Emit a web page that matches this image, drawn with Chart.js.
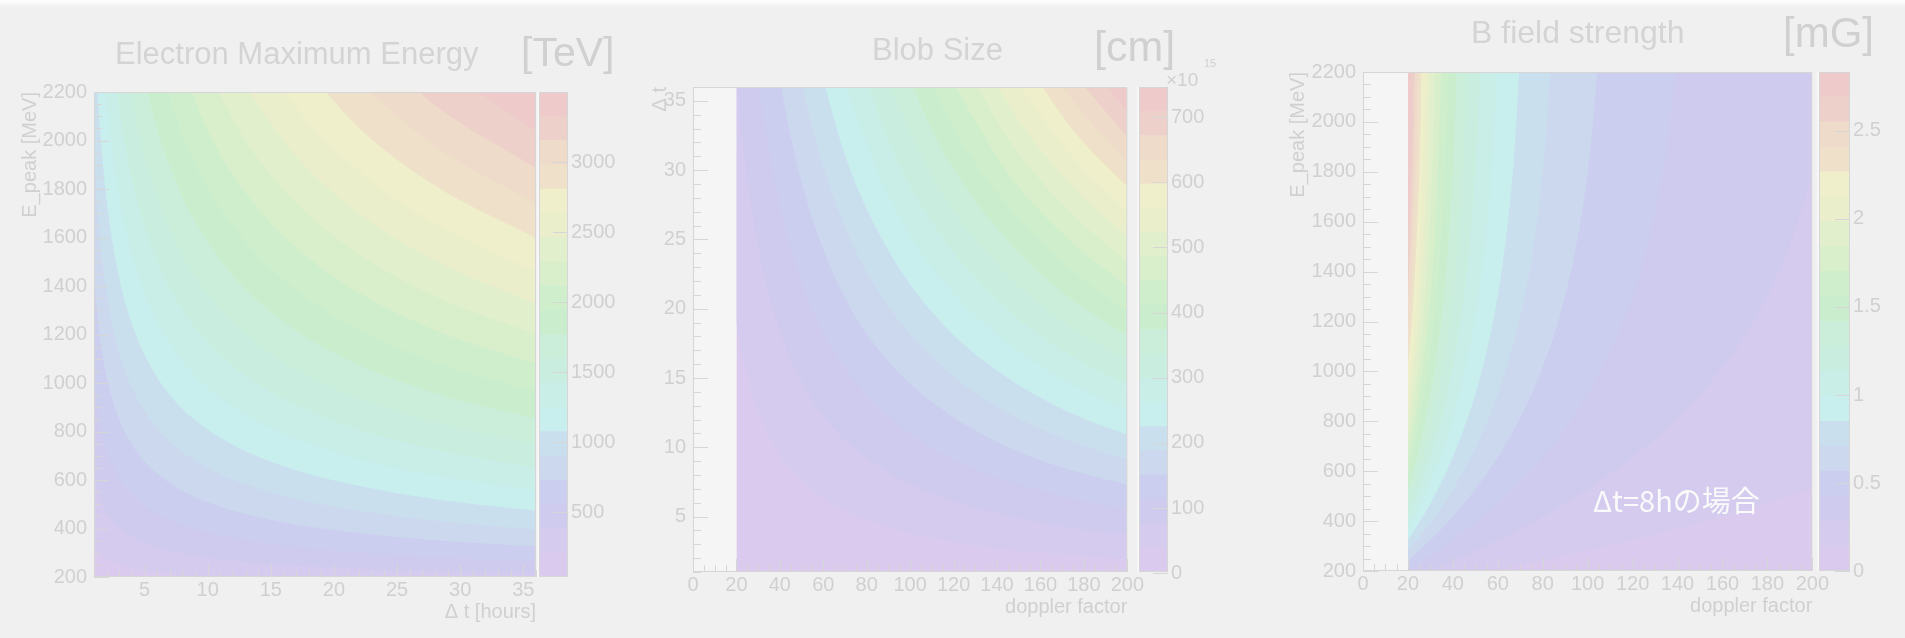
<!DOCTYPE html>
<html>
<head>
<meta charset="utf-8">
<title>Blob parameters</title>
<script src="https://cdn.jsdelivr.net/npm/chart.js@4.4.1/dist/chart.umd.min.js"></script>
<style>
  html, body { margin: 0; padding: 0; }
  body { width: 1905px; height: 638px; position: relative; overflow: hidden; background: #f0f0f0;
         font-family: "Liberation Sans", Arial, sans-serif; }
  canvas, .txt, .strip { position: absolute; }
  .txt { white-space: nowrap; line-height: 1; }
  .title { color: #d4d4d4; font-size: 31px; }
  .unit { color: #d0d0d0; }
</style>
</head>
<body>
<div class="strip" style="left:0;top:0;width:1905px;height:7px;background:linear-gradient(#ffffff,#f0f0f0)"></div>

<canvas id="emax" width="545" height="638" style="left:0;top:0"></canvas>
<div class="strip" style="left:537px;top:92px;width:2px;height:485px;background:#f7f7f7"></div>
<canvas id="emaxBar" width="110" height="638" style="left:539px;top:0"></canvas>

<canvas id="blob" width="545" height="638" style="left:600px;top:0"></canvas>
<div class="strip" style="left:1137px;top:87px;width:2px;height:485px;background:#f7f7f7"></div>
<canvas id="blobBar" width="110" height="638" style="left:1139px;top:0"></canvas>

<canvas id="bfield" width="560" height="638" style="left:1270px;top:0"></canvas>
<div class="strip" style="left:1817px;top:72px;width:2px;height:499px;background:#f7f7f7"></div>
<canvas id="bfieldBar" width="86" height="638" style="left:1819px;top:0"></canvas>

<div class="txt title" style="left:115px;top:38px">Electron Maximum Energy</div>
<div class="txt unit" style="left:521px;top:32px;font-size:41px">[TeV]</div>
<div class="txt title" style="left:872px;top:34px">Blob Size</div>
<div class="txt unit" style="left:1094px;top:25px;font-size:43px">[cm]</div>
<div class="txt unit" style="left:1166px;top:70px;font-size:19px">×10</div>
<div class="txt unit" style="left:1204px;top:58px;font-size:11px">15</div>
<div class="txt title" style="left:1471px;top:16px;font-size:32px">B field strength</div>
<div class="txt unit" style="left:1783px;top:12px;font-size:42px">[mG]</div>
<div class="txt" style="left:1593px;top:485px;font-size:29px;font-family:'Noto Sans CJK JP';color:#fafafa">Δt=8hの場合</div>

<script>
// 20-step palette shared by the three maps (lowest level first)
const palette = ['#dacbee', '#d4cbee', '#cecbee', '#cbceee', '#ccd8ee', '#cadfee', '#c8eeee', '#c8eee7',
                 '#c9eedf', '#caeed9', '#caeecd', '#ceeecc', '#d9efcc', '#e1efcc', '#eaeeca', '#efefcb',
                 '#eee0c9', '#eedbc9', '#eed0cb', '#efcacb'];

// Electron maximum energy [TeV] vs Δt [hours] and E_peak [MeV]
const emaxEdges = [36, 209, 382, 556, 729, 902, 1075, 1248, 1422, 1595, 1768, 1941, 2114, 2288,
                   2461, 2634, 2807, 2980, 3154, 3327, 3500];
const emaxHours = [1, 1.3, 1.7, 2.2, 3, 4, 5.5, 7.5, 10, 13, 17, 22, 28, 36];
// E_peak where each level boundary sits, one row per boundary
const emaxContours = [
  [333, 308, 286, 268, 249, 235, 221, 210, 201, 194, 188, 183, 179, 175],
  [619, 555, 499, 453, 405, 367, 332, 303, 281, 263, 247, 234, 224, 214],
  [990, 876, 776, 693, 607, 539, 476, 425, 384, 353, 325, 301, 282, 265],
  [1435, 1261, 1107, 980, 848, 745, 649, 570, 508, 460, 417, 381, 352, 326],
  [1943, 1700, 1486, 1308, 1125, 981, 846, 736, 650, 582, 522, 473, 432, 396],
  [2509, 2189, 1907, 1673, 1432, 1243, 1066, 921, 808, 719, 640, 575, 521, 473],
  [null, null, 2369, 2073, 1769, 1530, 1307, 1124, 980, 868, 769, 686, 619, 558],
  [null, null, null, 2506, 2133, 1841, 1567, 1343, 1167, 1029, 908, 807, 725, 650],
  [null, null, null, null, 2524, 2174, 1846, 1578, 1367, 1203, 1057, 936, 838, 748],
  [null, null, null, null, null, 2528, 2142, 1828, 1580, 1387, 1216, 1074, 958, 853],
  [null, null, null, null, null, null, 2455, 2091, 1805, 1581, 1383, 1219, 1085, 963],
  [null, null, null, null, null, null, null, 2368, 2041, 1785, 1559, 1371, 1218, 1079],
  [null, null, null, null, null, null, null, null, 2289, 1999, 1744, 1531, 1358, 1201],
  [null, null, null, null, null, null, null, null, null, 2223, 1936, 1698, 1504, 1328],
  [null, null, null, null, null, null, null, null, null, 2455, 2136, 1872, 1656, 1460],
  [null, null, null, null, null, null, null, null, null, null, 2344, 2052, 1814, 1597],
  [null, null, null, null, null, null, null, null, null, null, null, 2238, 1977, 1739],
  [null, null, null, null, null, null, null, null, null, null, null, 2431, 2145, 1886],
  [null, null, null, null, null, null, null, null, null, null, null, null, 2319, 2037]
];
const emaxXTicks = [5, 10, 15, 20, 25, 30, 35];
const epeakTicks = [200, 400, 600, 800, 1000, 1200, 1400, 1600, 1800, 2000, 2200];
const emaxBarTicks = [500, 1000, 1500, 2000, 2500, 3000];

// Blob size [1e15 cm] vs doppler factor and Δt [hours]
const blobEdges = [2, 39.2, 76.4, 113.6, 150.8, 188, 225.2, 262.4, 299.6, 336.8, 374, 411.2, 448.4,
                   485.6, 522.8, 560, 597.2, 634.4, 671.6, 708.8, 746];
const blobDoppler = [20, 23, 27, 32, 38, 45, 55, 70, 90, 115, 145, 175, 200];
const blobContours = [
  [18.9, 16.4, 14.0, 11.8, 9.9, 8.4, 6.9, 5.4, 4.2, 3.3, 2.6, 2.2, 1.9],
  [36.9, 32.0, 27.3, 23.0, 19.4, 16.4, 13.4, 10.5, 8.2, 6.4, 5.1, 4.2, 3.7],
  [null, null, 40.6, 34.3, 28.9, 24.4, 19.9, 15.7, 12.2, 9.5, 7.6, 6.3, 5.5],
  [null, null, null, null, 38.3, 32.4, 26.5, 20.8, 16.2, 12.7, 10.0, 8.3, 7.3],
  [null, null, null, null, null, 40.3, 33.0, 25.9, 20.2, 15.8, 12.5, 10.4, 9.1],
  [null, null, null, null, null, null, 39.5, 31.1, 24.2, 18.9, 15.0, 12.4, 10.9],
  [null, null, null, null, null, null, null, 36.2, 28.1, 22.0, 17.5, 14.5, 12.7],
  [null, null, null, null, null, null, null, 41.3, 32.1, 25.1, 19.9, 16.5, 14.5],
  [null, null, null, null, null, null, null, null, 36.1, 28.3, 22.4, 18.6, 16.3],
  [null, null, null, null, null, null, null, null, 40.1, 31.4, 24.9, 20.6, 18.1],
  [null, null, null, null, null, null, null, null, 44.1, 34.5, 27.4, 22.7, 19.8],
  [null, null, null, null, null, null, null, null, null, 37.6, 29.8, 24.7, 21.6],
  [null, null, null, null, null, null, null, null, null, 40.8, 32.3, 26.8, 23.4],
  [null, null, null, null, null, null, null, null, null, 43.9, 34.8, 28.8, 25.2],
  [null, null, null, null, null, null, null, null, null, null, 37.3, 30.9, 27.0],
  [null, null, null, null, null, null, null, null, null, null, 39.8, 32.9, 28.8],
  [null, null, null, null, null, null, null, null, null, null, 42.2, 35.0, 30.6],
  [null, null, null, null, null, null, null, null, null, null, null, 37.0, 32.4],
  [null, null, null, null, null, null, null, null, null, null, null, 39.1, 34.2]
];
const dopplerTicks = [0, 20, 40, 60, 80, 100, 120, 140, 160, 180, 200];
const hourTicks = [5, 10, 15, 20, 25, 30, 35];
const blobBarTicks = [0, 100, 200, 300, 400, 500, 600, 700];

// B field strength [mG] vs doppler factor and E_peak [MeV], Δt = 8 h
const bfieldEdges = [0, 0.142, 0.284, 0.425, 0.567, 0.709, 0.851, 0.992, 1.134, 1.276, 1.418, 1.559,
                     1.701, 1.843, 1.985, 2.126, 2.268, 2.41, 2.552, 2.693, 2.835];
// [doppler, E_peak] points along each level boundary
const bfieldContours = [
  [[20, 133], [43.9, 174], [87.9, 257], [131.8, 351], [175.8, 460], [200, 528]],
  [[20, 167], [22, 174], [43.9, 257], [65.9, 351], [87.9, 460], [109.9, 588], [131.8, 745], [153.8, 948],
   [175.8, 1233], [191.1, 1536], [200, 1798]],
  [[20, 203], [29.3, 257], [43.9, 351], [58.6, 460], [73.2, 588], [87.9, 745], [102.5, 948], [117.2, 1233],
   [127.4, 1536], [134.8, 1878], [139.2, 2209]],
  [[20, 241], [22, 257], [33, 351], [43.9, 460], [54.9, 588], [65.9, 745], [76.9, 948], [87.9, 1233],
   [95.6, 1536], [101.1, 1878], [104.4, 2209]],
  [[20, 282], [26.4, 351], [35.2, 460], [43.9, 588], [52.7, 745], [61.5, 948], [70.3, 1233], [76.5, 1536],
   [80.8, 1878], [83.5, 2209]],
  [[20, 325], [22, 351], [29.3, 460], [36.6, 588], [43.9, 745], [51.3, 948], [58.6, 1233], [63.7, 1536],
   [67.4, 1878], [69.6, 2209]],
  [[20, 370], [25.1, 460], [31.4, 588], [37.7, 745], [43.9, 948], [50.2, 1233], [54.6, 1536], [57.7, 1878],
   [59.6, 2209]],
  [[20, 419], [22, 460], [27.5, 588], [33, 745], [38.5, 948], [43.9, 1233], [47.8, 1536], [50.5, 1878],
   [52.2, 2209]],
  [[20, 471], [24.4, 588], [29.3, 745], [34.2, 948], [39.1, 1233], [42.5, 1536], [44.9, 1878], [46.4, 2209]],
  [[20, 528], [22, 588], [26.4, 745], [30.8, 948], [35.2, 1233], [38.2, 1536], [40.4, 1878], [41.7, 2209]],
  [[20, 589], [24, 745], [28, 948], [32, 1233], [34.8, 1536], [36.8, 1878], [38, 2209]],
  [[20, 656], [22, 745], [25.6, 948], [29.3, 1233], [31.9, 1536], [33.7, 1878], [34.8, 2209]],
  [[20, 731], [22, 839], [23.7, 948], [27, 1233], [29.4, 1536], [31.1, 1878], [32.1, 2209]],
  [[20, 814], [22, 948], [25.1, 1233], [27.3, 1536], [28.9, 1878], [29.8, 2209]],
  [[20, 908], [22, 1076], [23.4, 1233], [25.5, 1536], [26.9, 1878], [27.8, 2209]],
  [[20, 1017], [22, 1233], [23.9, 1536], [25.3, 1878], [26.1, 2209]],
  [[20, 1146], [20.7, 1233], [22, 1436], [22.5, 1536], [23.8, 1878], [24.6, 2209]],
  [[20, 1304], [21.2, 1536], [22, 1721], [22.5, 1878], [23.2, 2209]],
  [[20, 1508], [20.8, 1721], [21.3, 1878], [22, 2209]]
];
const bfieldBarTicks = [0, 0.5, 1, 1.5, 2, 2.5];

const axisFont = {family: "'Liberation Sans', Arial, sans-serif", size: 20};
const textColor = '#d0d0d0';
const lineColor = '#d6d6d6';

const gridCurves = (xs, rows) => rows.map(r => xs.map((x, j) => ({x, y: r[j] == null ? null : r[j]})));
const pointCurves = rows => rows.map(r => r.map(([x, y]) => ({x, y})));

function isMajor(v, step) {
  return Math.abs(v / step - Math.round(v / step)) < 1e-6;
}

// frame, inward ticks and the pale pad behind the map
const frameTicks = {
  id: 'frameTicks',
  beforeDatasetsDraw(chart) {
    const {ctx, chartArea: a} = chart;
    ctx.save();
    ctx.fillStyle = '#f5f5f5';
    ctx.fillRect(a.left, a.top, a.width, a.height);
    ctx.restore();
  },
  afterDatasetsDraw(chart, args, o) {
    const {ctx, chartArea: a, scales: {x, y}} = chart;
    ctx.save();
    ctx.strokeStyle = lineColor;
    ctx.lineWidth = 1;
    ctx.beginPath();
    ctx.rect(a.left + 0.5, a.top + 0.5, a.width - 1, a.height - 1);
    for (let v = x.min; v <= x.max + 1e-9; v += o.xMinor) {
      const px = Math.round(x.getPixelForValue(v)) + 0.5;
      const len = isMajor(v, o.xMajor) ? 13 : 7;
      ctx.moveTo(px, a.bottom);
      ctx.lineTo(px, a.bottom - len);
    }
    for (let v = y.min; v <= y.max + 1e-9; v += o.yMinor) {
      const py = Math.round(y.getPixelForValue(v)) + 0.5;
      const len = isMajor(v, o.yMajor) ? 15 : 8;
      ctx.moveTo(a.left, py);
      ctx.lineTo(a.left + len, py);
    }
    ctx.stroke();
    ctx.restore();
  }
};

const barFrame = {
  id: 'barFrame',
  afterDatasetsDraw(chart, args, o) {
    const {ctx, chartArea: a, scales: {y}} = chart;
    ctx.save();
    ctx.strokeStyle = lineColor;
    ctx.lineWidth = 1;
    ctx.beginPath();
    ctx.rect(a.left + 0.5, a.top + 0.5, a.width - 1, a.height - 1);
    o.values.forEach(v => {
      const py = Math.round(y.getPixelForValue(v)) + 0.5;
      ctx.moveTo(a.right - 15, py);
      ctx.lineTo(a.right, py);
    });
    ctx.stroke();
    ctx.restore();
  }
};

function heatMap(id, c) {
  // level 0 covers the filled range, each boundary then paints its level up to the top
  const datasets = [{
    data: [{x: c.x0, y: c.yMin}, {x: c.xMax, y: c.yMin}],
    backgroundColor: palette[0], fill: 'end', order: 20
  }];
  c.curves.forEach((pts, i) => {
    datasets.push({data: pts, backgroundColor: palette[i + 1], fill: 'end', order: 19 - i});
  });

  return new Chart(document.getElementById(id), {
    type: 'line',
    data: {datasets},
    options: {
      responsive: false,
      animation: false,
      devicePixelRatio: 1,
      layout: {padding: c.pad},
      elements: {
        line: {borderWidth: 0, cubicInterpolationMode: 'monotone'},
        point: {radius: 0, hoverRadius: 0}
      },
      plugins: {
        legend: {display: false},
        tooltip: {enabled: false},
        frameTicks: c.ticks
      },
      scales: {
        x: {
          type: 'linear', min: c.xMin, max: c.xMax,
          grid: {display: false, drawTicks: false}, border: {display: false},
          afterBuildTicks: s => { s.ticks = c.xTicks.map(v => ({value: v})); },
          afterFit: s => { s.height = c.xH; },
          ticks: {font: axisFont, color: textColor, padding: 1, maxRotation: 0, autoSkip: false,
                  callback: v => String(v)},
          title: {display: true, text: c.xTitle, align: 'end', color: textColor, font: axisFont,
                  padding: {top: 0, bottom: c.xTitlePad}}
        },
        y: {
          type: 'linear', min: c.yMin, max: c.yMax,
          grid: {display: false, drawTicks: false}, border: {display: false},
          afterBuildTicks: s => { s.ticks = c.yTicks.map(v => ({value: v})); },
          afterFit: s => { s.width = c.yW; },
          ticks: {font: axisFont, color: textColor, padding: 7, autoSkip: false,
                  callback: v => String(v)},
          title: {display: true, text: c.yTitle, align: 'end', color: textColor, font: axisFont,
                  padding: {top: c.yTitlePad, bottom: 0}}
        }
      }
    },
    plugins: [frameTicks]
  });
}

function colourBar(id, edges, ticks, c) {
  const datasets = palette.map((col, k) => ({
    data: [[edges[k], edges[k + 1]]],
    backgroundColor: col,
    borderWidth: 0,
    barPercentage: 1,
    categoryPercentage: 1,
    grouped: false
  }));
  return new Chart(document.getElementById(id), {
    type: 'bar',
    data: {labels: [''], datasets},
    options: {
      responsive: false,
      animation: false,
      devicePixelRatio: 1,
      layout: {padding: c.pad},
      plugins: {legend: {display: false}, tooltip: {enabled: false}, barFrame: {values: ticks}},
      scales: {
        x: {display: false},
        y: {
          position: 'right', min: edges[0], max: edges[edges.length - 1],
          grid: {display: false, drawTicks: false}, border: {display: false},
          afterBuildTicks: s => { s.ticks = ticks.map(v => ({value: v})); },
          afterFit: s => { s.width = c.yW; },
          ticks: {font: axisFont, color: textColor, padding: 3, autoSkip: false,
                  callback: v => String(v)}
        }
      }
    },
    plugins: [barFrame]
  });
}

heatMap('emax', {
  curves: gridCurves(emaxHours, emaxContours), x0: emaxHours[0],
  xMin: 1, xMax: 36, yMin: 200, yMax: 2200,
  xTicks: emaxXTicks, yTicks: epeakTicks,
  xTitle: 'Δ t [hours]', yTitle: 'E_peak [MeV]',
  pad: {top: 92, right: 9, bottom: 0, left: 0}, xH: 61, yW: 94,
  xTitlePad: 14, yTitlePad: 18,
  ticks: {xMinor: 1, xMajor: 5, yMinor: 50, yMajor: 200}
});
colourBar('emaxBar', emaxEdges, emaxBarTicks, {pad: {top: 92, bottom: 61, left: 0, right: 0}, yW: 81});

heatMap('blob', {
  curves: gridCurves(blobDoppler, blobContours), x0: blobDoppler[0],
  xMin: 0, xMax: 200, yMin: 1, yMax: 36,
  xTicks: dopplerTicks, yTicks: hourTicks,
  xTitle: 'doppler factor', yTitle: 'Δ t',
  pad: {top: 87, right: 9, bottom: 0, left: 0}, xH: 66, yW: 93,
  xTitlePad: 19, yTitlePad: 48,
  ticks: {xMinor: 5, xMajor: 20, yMinor: 1, yMajor: 5}
});
colourBar('blobBar', blobEdges, blobBarTicks, {pad: {top: 87, bottom: 66, left: 0, right: 0}, yW: 81});

heatMap('bfield', {
  curves: pointCurves(bfieldContours), x0: 20,
  xMin: 0, xMax: 200, yMin: 200, yMax: 2200,
  xTicks: dopplerTicks, yTicks: epeakTicks,
  xTitle: 'doppler factor', yTitle: 'E_peak [MeV]',
  pad: {top: 72, right: 13, bottom: 0, left: 0}, xH: 67, yW: 93,
  xTitlePad: 20, yTitlePad: 16,
  ticks: {xMinor: 5, xMajor: 20, yMinor: 50, yMajor: 200}
});
colourBar('bfieldBar', bfieldEdges, bfieldBarTicks, {pad: {top: 72, bottom: 67, left: 0, right: 0}, yW: 55});
</script>
</body>
</html>
